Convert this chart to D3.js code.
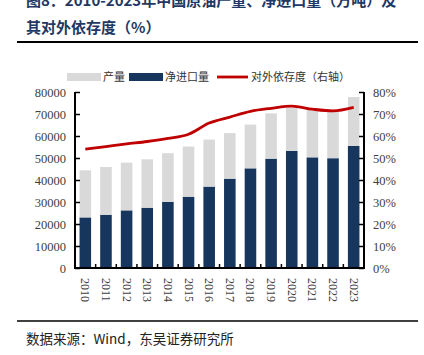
<!DOCTYPE html>
<html><head><meta charset="utf-8">
<script src="https://cdn.jsdelivr.net/npm/d3@7"></script>
<style>
html,body{margin:0;padding:0;background:#fff;}
svg{display:block;}
</style></head>
<body>
<script>
const years = ["2010","2011","2012","2013","2014","2015","2016","2017","2018","2019","2020","2021","2022","2023"];
const netImports = [23000,24200,26200,27400,30100,32400,37000,40600,45300,49700,53200,50300,49900,55500];
const production = [21400,21700,21700,22000,22100,22800,21400,20700,19900,20600,19500,21500,21800,22200];
const dependency = [54.0,55.2,56.4,57.5,58.9,60.8,65.9,68.6,71.2,72.6,73.6,72.2,71.4,73.0];
const leftTicks = [0,10000,20000,30000,40000,50000,60000,70000,80000];
const rightTicks = [0,10,20,30,40,50,60,70,80];
const legendLabels = ["产量","净进口量","对外依存度（右轴）"];
const titleLines = ["图8：2010-2023年中国原油产量、净进口量（万吨）及","其对外依存度（%）"];
const sourceText = "数据来源：Wind，东吴证券研究所";

const W=424,H=355;
const L=75,R=364,T=92,B=268;
const svg=d3.select("body").append("svg").attr("width",W).attr("height",H);

const navy="#17365d", gray="#d9d9d9", red="#c00000";

// title
svg.append("text").attr("x",26).attr("y",6).attr("font-family","'Noto Sans CJK SC'").attr("font-weight","bold")
  .attr("font-size",15).attr("fill","#1f3864").text(titleLines[0]);
svg.append("text").attr("x",26).attr("y",33).attr("font-family","'Noto Sans CJK SC'").attr("font-weight","bold")
  .attr("font-size",15).attr("fill","#1f3864").text(titleLines[1]);
svg.append("line").attr("x1",17).attr("x2",418).attr("y1",42).attr("y2",42).attr("stroke","#000").attr("stroke-width",2);

// scales
const x=d3.scaleBand().domain(years).range([L,R]).paddingInner(0.44).paddingOuter(0.22);
const y=d3.scaleLinear().domain([0,80000]).range([B,T]);
const y2=d3.scaleLinear().domain([0,80]).range([B,T]);

// bars
const g=svg.append("g");
g.selectAll(".net").data(years).join("rect")
  .attr("x",d=>x(d)).attr("width",x.bandwidth())
  .attr("y",(d,i)=>y(netImports[i])).attr("height",(d,i)=>y(0)-y(netImports[i]))
  .attr("fill",navy);
g.selectAll(".prod").data(years).join("rect")
  .attr("x",d=>x(d)).attr("width",x.bandwidth())
  .attr("y",(d,i)=>y(netImports[i]+production[i])).attr("height",(d,i)=>y(netImports[i])-y(netImports[i]+production[i]))
  .attr("fill",gray);

// line
const line=d3.line().x((d,i)=>x(years[i])+x.bandwidth()/2).y(d=>y2(d)).curve(d3.curveMonotoneX);
svg.append("path").datum(dependency).attr("d",line).attr("fill","none").attr("stroke",red).attr("stroke-width",2.8);

// axes
const fontAx="'Liberation Serif', serif";
const ax=svg.append("g").attr("transform",`translate(${L},0)`)
  .call(d3.axisLeft(y).tickValues(leftTicks).tickSize(-5).tickPadding(9).tickFormat(d3.format("d")));
const ax2=svg.append("g").attr("transform",`translate(${R},0)`)
  .call(d3.axisRight(y2).tickValues(rightTicks).tickSize(-5).tickPadding(9).tickFormat(d=>d+"%"));
[ax,ax2].forEach(a=>{
  a.select(".domain").attr("stroke","#000").attr("stroke-width",2).attr("d",`M0,${T}V${B}`);
  a.selectAll(".tick line").attr("stroke","#000").attr("stroke-width",1.5);
  a.selectAll(".tick text").attr("font-family",fontAx).attr("font-size",12.5).attr("fill","#404040");
});
// x axis
svg.append("line").attr("x1",L-1).attr("x2",R+1).attr("y1",B).attr("y2",B).attr("stroke","#000").attr("stroke-width",2);
const step=x.step();
const bounds=d3.range(1,years.length).map(i=>x(years[i])-step*0.22);
svg.selectAll(".xt").data(bounds).join("line")
  .attr("x1",d=>d).attr("x2",d=>d).attr("y1",B).attr("y2",B-4).attr("stroke","#000").attr("stroke-width",1.5);
svg.selectAll(".xl").data(years).join("text")
  .attr("transform",d=>`translate(${x(d)+x.bandwidth()/2-4},${278}) rotate(90)`)
  .attr("font-family",fontAx).attr("font-size",12).attr("fill","#404040").text(d=>d);

// legend
const lf="'Noto Sans CJK SC'";
svg.append("rect").attr("x",67).attr("y",73).attr("width",34).attr("height",8).attr("fill",gray);
svg.append("text").attr("x",103).attr("y",81).attr("font-family",lf).attr("font-size",11).attr("fill","#333").text(legendLabels[0]);
svg.append("rect").attr("x",129).attr("y",73).attr("width",34).attr("height",8).attr("fill",navy);
svg.append("text").attr("x",165).attr("y",81).attr("font-family",lf).attr("font-size",11).attr("fill","#333").text(legendLabels[1]);
svg.append("line").attr("x1",217).attr("x2",248).attr("y1",77).attr("y2",77).attr("stroke",red).attr("stroke-width",2.8);
svg.append("text").attr("x",251).attr("y",81).attr("font-family",lf).attr("font-size",11).attr("fill","#333").text(legendLabels[2]);

// source
svg.append("line").attr("x1",17).attr("x2",418).attr("y1",321).attr("y2",321).attr("stroke","#000").attr("stroke-width",1.5);
svg.append("text").attr("x",26).attr("y",344).attr("font-family","'Noto Sans CJK SC'").attr("font-size",13.5).attr("fill","#222").text(sourceText);
</script>
</body></html>
